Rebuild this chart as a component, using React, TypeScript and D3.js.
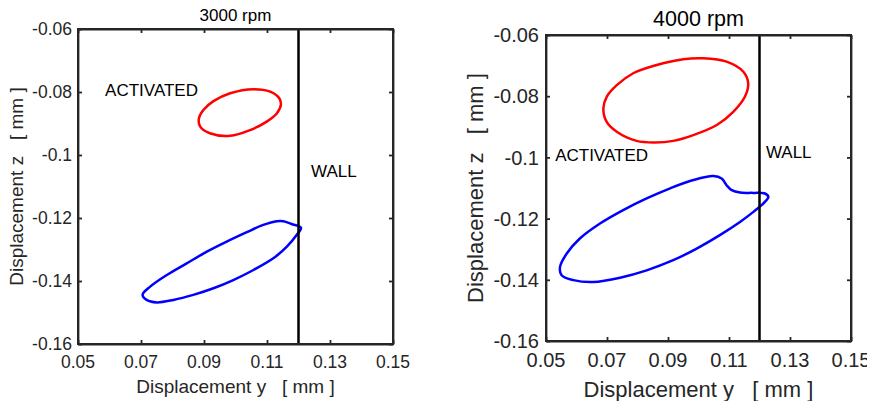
import * as d3 from "d3";
import { useEffect, useRef } from "react";

// orbit loops, [y, z] in mm
const red3000: [number, number][] = [
  [0.0884, -0.0883], [0.0898, -0.0857], [0.093, -0.0829], [0.0983, -0.0804],
  [0.1057, -0.0791], [0.111, -0.0799], [0.1139, -0.082], [0.1144, -0.0841],
  [0.1131, -0.0868], [0.1099, -0.0894], [0.1046, -0.0921], [0.0983, -0.0939],
  [0.0919, -0.0931], [0.0887, -0.0908],
];
const blue3000: [number, number][] = [
  [0.0705, -0.1444], [0.0729, -0.1418], [0.0782, -0.1381], [0.0845, -0.1344],
  [0.0909, -0.1307], [0.0972, -0.1275], [0.1036, -0.1245], [0.1088, -0.1222],
  [0.1131, -0.121], [0.1152, -0.121], [0.1178, -0.1219], [0.1208, -0.1231],
  [0.1194, -0.1254], [0.1163, -0.1291], [0.112, -0.1328], [0.1057, -0.1365],
  [0.0993, -0.1397], [0.093, -0.1423], [0.0866, -0.1444], [0.0803, -0.146],
  [0.075, -0.1468], [0.0718, -0.146],
];
const red4000: [number, number][] = [
  [0.0688, -0.084], [0.0699, -0.0802], [0.0732, -0.0764], [0.0786, -0.0725],
  [0.0863, -0.0698], [0.095, -0.0679], [0.1016, -0.0676], [0.1092, -0.0687],
  [0.1147, -0.072], [0.1163, -0.0758], [0.1152, -0.0802], [0.1114, -0.0851],
  [0.106, -0.0894], [0.0983, -0.0927], [0.0917, -0.0946], [0.0857, -0.0951],
  [0.0797, -0.0946], [0.0732, -0.0916], [0.0699, -0.0884],
];
const blue4000: [number, number][] = [
  [0.0546, -0.1358], [0.0568, -0.1314], [0.0611, -0.1265], [0.0677, -0.1216],
  [0.0753, -0.1172], [0.083, -0.1134], [0.0907, -0.1101], [0.0983, -0.1074],
  [0.1049, -0.1061], [0.1076, -0.1069], [0.1092, -0.1091], [0.1109, -0.1107],
  [0.1136, -0.1115], [0.118, -0.1116], [0.1218, -0.1118], [0.1229, -0.1129],
  [0.1212, -0.1151], [0.118, -0.1178], [0.1136, -0.1211], [0.107, -0.1254],
  [0.0994, -0.1298], [0.0917, -0.1336], [0.083, -0.1369], [0.0743, -0.1393],
  [0.0655, -0.1407], [0.059, -0.1401], [0.0551, -0.1385],
];

const xTicks = [0.05, 0.07, 0.09, 0.11, 0.13, 0.15];
const yTicks = [-0.06, -0.08, -0.1, -0.12, -0.14, -0.16];
const xDomain: [number, number] = [0.05, 0.15];
const yDomain: [number, number] = [-0.16, -0.06];
const wallY = 0.12;

const FONT = "'Liberation Sans', Arial, sans-serif";
const INK = "#262626";
const PAGE = 8; // body margin, left in place

type Panel = {
  title: string;
  red: [number, number][];
  blue: [number, number][];
  box: { x0: number; x1: number; y0: number; y1: number };
  tickFont: number;
  labelFont: number;
  titleFont: number;
  titleY: number;
  tickGap: number;
  xTickY: number;
  xLabelY: number;
  yLabelX: number;
  activated: [number, number];
  wall: [number, number];
};

const panels: Panel[] = [
  {
    title: "3000 rpm", red: red3000, blue: blue3000,
    box: { x0: 78, x1: 393, y0: 29, y1: 344 },
    tickFont: 17.5, labelFont: 19, titleFont: 17, titleY: 21, tickGap: 6,
    xTickY: 368, xLabelY: 393, yLabelX: 23,
    activated: [0.0586, -0.0813], wall: [0.124, -0.107],
  },
  {
    title: "4000 rpm", red: red4000, blue: blue4000,
    box: { x0: 546, x1: 851, y0: 35, y1: 341 },
    tickFont: 20, labelFont: 22, titleFont: 21.5, titleY: 26, tickGap: 7,
    xTickY: 367, xLabelY: 397, yLabelX: 483,
    activated: [0.053, -0.1012], wall: [0.1221, -0.1002],
  },
];

const fmt = (v: number) => String(+v.toFixed(2));

const drawPanel = (root: any, p: Panel) => {
  const { x0, x1, y0, y1 } = p.box;
  const x = d3.scaleLinear().domain(xDomain).range([x0, x1]);
  const y = d3.scaleLinear().domain(yDomain).range([y1, y0]);
  const tl = 4;
  const cx = (x0 + x1) / 2;
  const cy = (y0 + y1) / 2;
  const g = root.append("g").attr("font-family", FONT);

  g.append("text").attr("x", cx).attr("y", p.titleY).attr("text-anchor", "middle")
    .attr("font-size", p.titleFont).attr("fill", "#000").text(p.title);

  // axes frame with inward ticks on all four sides (matlab box on)
  const frame = root.append("g").attr("stroke-width", 1.8);
  frame.append("g").attr("transform", `translate(0,${y1})`)
    .call(d3.axisBottom(x).tickValues(xTicks).tickSizeInner(-tl).tickSizeOuter(0).tickFormat(() => ""));
  frame.append("g").attr("transform", `translate(0,${y0})`)
    .call(d3.axisTop(x).tickValues(xTicks).tickSizeInner(-tl).tickSizeOuter(0).tickFormat(() => ""));
  frame.append("g").attr("transform", `translate(${x0},0)`)
    .call(d3.axisLeft(y).tickValues(yTicks).tickSizeInner(-tl).tickSizeOuter(0).tickFormat(() => ""));
  frame.append("g").attr("transform", `translate(${x1},0)`)
    .call(d3.axisRight(y).tickValues(yTicks).tickSizeInner(-tl).tickSizeOuter(0).tickFormat(() => ""));
  frame.selectAll("path, line").attr("stroke", INK);

  xTicks.forEach((t) => {
    g.append("text").attr("x", x(t)).attr("y", p.xTickY).attr("text-anchor", "middle")
      .attr("font-size", p.tickFont).attr("fill", INK).text(fmt(t));
  });
  yTicks.forEach((t) => {
    g.append("text").attr("x", x0 - p.tickGap).attr("y", y(t)).attr("dy", "0.36em")
      .attr("text-anchor", "end").attr("font-size", p.tickFont).attr("fill", INK).text(fmt(t));
  });

  const line = d3.line<[number, number]>()
    .x((d) => x(d[0]))
    .y((d) => y(d[1]))
    .curve(d3.curveCatmullRomClosed.alpha(0.5));
  g.append("path").attr("d", line(p.red)).attr("fill", "none")
    .attr("stroke", "#ff0000").attr("stroke-width", 2.5);
  g.append("path").attr("d", line(p.blue)).attr("fill", "none")
    .attr("stroke", "#0000ff").attr("stroke-width", 2.5);

  g.append("line").attr("x1", x(wallY)).attr("x2", x(wallY)).attr("y1", y0).attr("y2", y1)
    .attr("stroke", "#000").attr("stroke-width", 2.5);

  g.append("rect").attr("x", x0).attr("y", y0).attr("width", x1 - x0).attr("height", y1 - y0)
    .attr("fill", "none").attr("stroke", INK).attr("stroke-width", 2);

  g.append("text").attr("x", x(p.activated[0])).attr("y", y(p.activated[1]))
    .attr("font-size", 17).attr("fill", "#000").text("ACTIVATED");
  g.append("text").attr("x", x(p.wall[0])).attr("y", y(p.wall[1]))
    .attr("font-size", 17).attr("fill", "#000").text("WALL");

  g.append("text").attr("x", cx).attr("y", p.xLabelY).attr("text-anchor", "middle")
    .attr("font-size", p.labelFont).attr("fill", INK).style("white-space", "pre")
    .text("Displacement y   [ mm ]");
  g.append("text").attr("transform", `translate(${p.yLabelX},${cy}) rotate(-90)`)
    .attr("text-anchor", "middle").attr("font-size", p.labelFont).attr("fill", INK)
    .style("white-space", "pre").text("Displacement z   [ mm ]");
};

export default function App() {
  const ref = useRef<SVGSVGElement>(null);
  useEffect(() => {
    const svg = d3.select(ref.current);
    svg.selectAll("*").remove();
    // svg sits at the body margin; shift content back so page coords match the picture
    const root = svg.append("g").attr("transform", `translate(${-PAGE},${-PAGE})`);
    panels.forEach((p) => drawPanel(root, p));
  }, []);
  return (
    <div>
      <svg
        ref={ref}
        width={875 - PAGE}
        height={401 - PAGE}
        style={{ display: "block", overflow: "visible" }}
      />
    </div>
  );
}
